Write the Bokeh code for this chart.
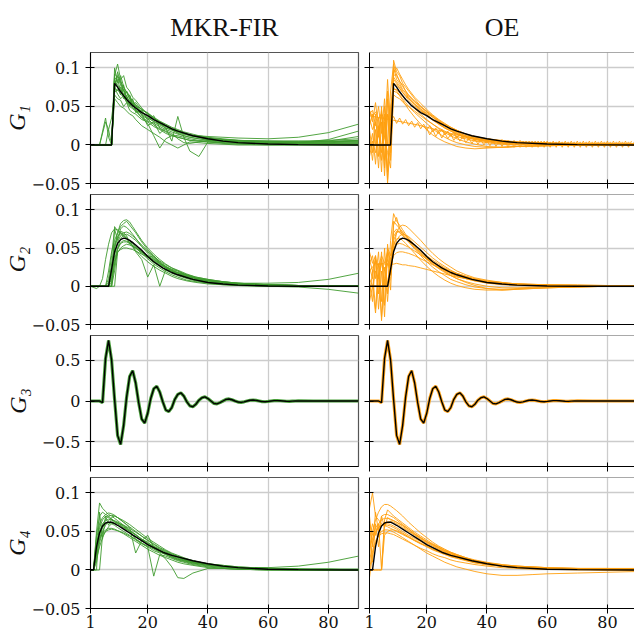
from bokeh.plotting import figure
from bokeh.layouts import column, row
from bokeh.models import Range1d, FixedTicker, Span
from bokeh.core.properties import value
from bokeh.embed import file_html
from bokeh.resources import INLINE

GREEN = "#3f9b2f"
ORANGE = "#ffa010"
GRID = "#cccccc"
TICK_FONT = "DejaVu Serif"

column_titles = ["MKR-FIR", "OE"]
row_labels = ["G₁", "G₂", "G₃", "G₄"]
x_ticks = [1, 20, 40, 60, 80]
x_tick_labels = ["1", "20", "40", "60", "80"]
y_ticks_small = [-0.05, 0, 0.05, 0.1]
y_tick_labels_small = ["−0.05", "0", "0.05", "0.1"]
y_ticks_g3 = [-0.5, 0, 0.5]
y_tick_labels_g3 = ["−0.5", "0", "0.5"]

# ---------------- true impulse responses (black) ----------------
g1_true_lags = [1, 8, 9, 10, 11, 12, 13, 14, 15, 16, 18, 20, 22, 25, 28, 30, 35, 40, 45, 50, 60, 70, 80, 90]
g1_true = [0, 0, 0.080, 0.075, 0.069, 0.064, 0.059, 0.055, 0.051, 0.048, 0.042, 0.038, 0.033, 0.027,
           0.021, 0.018, 0.012, 0.008, 0.005, 0.003, 0.0012, 0.0004, 0.0001, 0]
g2_true_lags = [1, 7, 8, 9, 10, 11, 12, 13, 14, 15, 16, 18, 20, 22, 25, 28, 30, 35, 40, 45, 50, 60, 70, 90]
g2_true = [0, 0, 0.022, 0.045, 0.056, 0.061, 0.063, 0.062, 0.06, 0.057, 0.054, 0.047, 0.039, 0.032,
           0.024, 0.018, 0.015, 0.009, 0.005, 0.003, 0.0015, 0.0004, 0.0001, 0]
g3_true_lags = list(range(1, 71)) + [75, 80, 90]
g3_true = [0, 0, 0, 0, -0.02, 0.52, 0.74, 0.5, 0.02, -0.42,
           -0.53, -0.3, 0.05, 0.3, 0.37, 0.22, -0.02, -0.22, -0.27, -0.15,
           0.03, 0.15, 0.18, 0.11, -0.01, -0.11, -0.13, -0.08, 0.02, 0.08,
           0.10, 0.06, -0.01, -0.06, -0.07, -0.04, 0.01, 0.04, 0.05, 0.03,
           0.0, -0.03, -0.035, -0.02, 0.0, 0.02, 0.025, 0.015, 0.0, -0.013,
           -0.017, -0.01, 0.0, 0.009, 0.012, 0.007, 0.0, -0.007, -0.009, -0.005,
           0.0, 0.004, 0.005, 0.003, 0.0, -0.003, -0.004, -0.002, 0.0, 0.002,
           0, 0, 0]
g4_true_lags = [1, 2, 3, 4, 5, 6, 7, 8, 9, 10, 12, 14, 16, 18, 20, 22, 25, 28, 30, 35, 40, 45, 50, 60, 70, 90]
g4_true = [0, 0, 0.03, 0.048, 0.057, 0.061, 0.062, 0.062, 0.06, 0.058, 0.053, 0.048, 0.043, 0.038,
           0.033, 0.029, 0.023, 0.019, 0.017, 0.012, 0.008, 0.005, 0.003, 0.001, 0.0004, 0]

# ---------------- G1, MKR-FIR estimates ----------------
g1_fir_lags = [1, 4, 6, 7, 8, 9, 10, 11, 12, 13, 14, 15, 16, 18, 20, 22, 24, 26, 28, 30, 32, 34, 37, 40, 45, 50, 60, 70, 80, 90]
g1_fir_runs = [
    [0, 0, 0, 0, 0, 0.09, 0.105, 0.085, 0.09, 0.075, 0.07, 0.062, 0.058, 0.048, 0.04, 0.035, 0.028, 0.022, 0.02, 0.016, 0.014, 0.012, 0.01, 0.008, 0.006, 0.005, 0.004, 0.004, 0.005, 0.006],
    [0, 0, 0.03, 0.02, 0.035, 0.065, 0.06, 0.058, 0.05, 0.055, 0.045, 0.042, 0.04, 0.033, 0.03, 0.024, 0.02, 0.015, 0.012, 0.01, 0.008, 0.006, 0.005, 0.004, 0.003, 0.002, 0.001, 0.001, 0.001, 0.001],
    [0, 0, 0, 0, 0, 0.075, 0.07, 0.075, 0.06, 0.065, 0.05, 0.055, 0.045, 0.04, 0.025, 0.03, 0.015, 0.022, 0.005, 0.037, 0.01, -0.008, -0.015, 0.004, 0.002, 0.001, 0, 0, 0, 0],
    [0, 0, 0, 0, 0, 0.08, 0.085, 0.07, 0.072, 0.062, 0.058, 0.05, 0.05, 0.043, 0.036, 0.03, 0.026, 0.022, 0.019, 0.017, 0.015, 0.013, 0.012, 0.011, 0.01, 0.009, 0.008, 0.01, 0.016, 0.027],
    [0, 0, 0, 0, 0, 0.07, 0.095, 0.08, 0.07, 0.068, 0.06, 0.052, 0.045, 0.035, 0.028, 0.012, -0.004, 0.008, 0.012, 0.01, 0.008, 0.006, 0.005, 0.004, 0.003, 0.002, 0.002, 0.003, 0.007, 0.018],
    [0, 0, 0.035, 0.01, 0, 0.1, 0.08, 0.085, 0.07, 0.06, 0.065, 0.052, 0.055, 0.045, 0.042, 0.035, 0.03, 0.025, 0.02, 0.015, 0.012, 0.01, 0.008, 0.006, 0.005, 0.004, 0.003, 0.003, 0.005, 0.011],
    [0, 0, 0, 0, 0, 0.085, 0.075, 0.065, 0.078, 0.058, 0.052, 0.06, 0.042, 0.045, 0.032, 0.038, 0.022, 0.018, 0.015, 0.008, 0.003, 0.002, 0.004, 0.006, 0.006, 0.005, 0.005, 0.005, 0.004, 0.004],
    [0, 0, 0, 0, 0, 0.06, 0.055, 0.05, 0.048, 0.044, 0.04, 0.038, 0.033, 0.025, 0.02, 0.015, 0.01, 0.004, 0.0, -0.004, 0.0, 0.004, 0.003, 0.002, 0.001, 0, 0, 0, 0, 0],
    [0, 0, 0, 0, 0, 0.082, 0.078, 0.072, 0.066, 0.062, 0.057, 0.053, 0.05, 0.043, 0.038, 0.033, 0.028, 0.024, 0.021, 0.018, 0.016, 0.013, 0.011, 0.009, 0.007, 0.006, 0.005, 0.005, 0.006, 0.008],
    [0, 0, 0, 0, 0, 0.092, 0.088, 0.078, 0.064, 0.07, 0.063, 0.05, 0.052, 0.038, 0.034, 0.026, 0.021, 0.017, 0.013, 0.012, 0.01, 0.008, 0.006, 0.005, 0.004, 0.003, 0.002, 0.002, 0.002, 0.003],
    [0, 0, 0, 0, 0, 0.078, 0.09, 0.082, 0.074, 0.069, 0.06, 0.058, 0.052, 0.046, 0.041, 0.036, 0.031, 0.027, 0.023, 0.02, 0.017, 0.015, 0.012, 0.01, 0.008, 0.006, 0.004, 0.003, 0.003, 0.004],
    [0, 0, 0, 0, 0, 0.068, 0.072, 0.066, 0.062, 0.056, 0.054, 0.048, 0.046, 0.04, 0.035, 0.031, 0.027, 0.024, 0.02, 0.018, 0.015, 0.013, 0.011, 0.009, 0.007, 0.006, 0.005, 0.004, 0.004, 0.005],
    [0, 0, 0, 0, 0, 0.088, 0.082, 0.09, 0.076, 0.068, 0.064, 0.056, 0.05, 0.047, 0.04, 0.034, 0.03, 0.026, 0.022, 0.019, 0.015, 0.012, 0.01, 0.007, 0.005, 0.004, 0.003, 0.002, 0.002, 0.002],
    [0, 0, 0, 0.02, 0, 0.074, 0.066, 0.06, 0.064, 0.055, 0.05, 0.047, 0.044, 0.036, 0.031, 0.028, 0.024, 0.02, 0.017, 0.014, 0.012, 0.01, 0.008, 0.007, 0.005, 0.004, 0.003, 0.003, 0.004, 0.006],
]

# ---------------- G1, OE estimates ----------------
g1_oe_lags = [1, 2, 3, 4, 5, 6, 7, 8, 9, 10, 11, 12, 13, 14, 16, 18, 20, 22, 24, 26, 28, 30, 33, 36, 40, 45, 50, 60, 70, 80, 90]
g1_oe_runs = [
    [0, 0, 0, 0, 0, 0, 0, 0, 0.11, 0.095, 0.09, 0.08, 0.075, 0.07, 0.06, 0.05, 0.043, 0.036, 0.03, 0.025, 0.02, 0.016, 0.012, 0.009, 0.006, 0.004, 0.003, 0.002, 0.001, 0.001, 0.001],
    [0.045, 0.03, 0.055, 0.02, 0.04, 0.01, 0.085, 0.02, 0.1, 0.085, 0.08, 0.072, 0.068, 0.062, 0.054, 0.046, 0.04, 0.033, 0.027, 0.022, 0.018, 0.014, 0.01, 0.007, 0.004, 0.002, 0.001, 0.001, 0.001, 0.001, 0.001],
    [-0.015, 0.005, -0.01, 0.02, -0.02, 0.03, -0.05, 0.01, 0.075, 0.07, 0.065, 0.06, 0.055, 0.05, 0.042, 0.035, 0.028, 0.021, 0.015, 0.01, 0.006, 0.003, 0.0, -0.002, -0.003, -0.003, -0.002, -0.001, 0, 0, 0],
    [0.035, 0.02, 0.03, 0.01, 0.045, -0.03, 0.06, -0.02, 0.085, 0.08, 0.074, 0.068, 0.063, 0.058, 0.05, 0.044, 0.038, 0.032, 0.027, 0.022, 0.018, 0.014, 0.01, 0.007, 0.005, 0.003, 0.002, 0.001, 0, 0, 0],
    [0, 0, 0, 0, 0, 0.01, -0.01, -0.03, 0.07, 0.068, 0.064, 0.058, 0.052, 0.046, 0.036, 0.027, 0.02, 0.013, 0.008, 0.004, 0.001, -0.002, -0.004, -0.005, -0.004, -0.003, -0.002, -0.001, 0, 0, 0],
    [0.025, 0.04, 0.0, 0.035, -0.01, 0.05, -0.035, 0.04, 0.09, 0.092, 0.082, 0.078, 0.07, 0.064, 0.056, 0.049, 0.043, 0.037, 0.031, 0.026, 0.021, 0.017, 0.012, 0.009, 0.006, 0.004, 0.003, 0.002, 0.001, 0.001, 0.001],
    [0, 0, 0, 0, 0, 0, 0, 0, 0.095, 0.1, 0.092, 0.085, 0.078, 0.072, 0.062, 0.054, 0.046, 0.039, 0.033, 0.028, 0.023, 0.019, 0.014, 0.011, 0.008, 0.006, 0.004, 0.003, 0.002, 0.002, 0.001],
    [0.01, -0.02, 0.02, -0.03, 0.03, -0.04, 0.04, -0.01, 0.065, 0.062, 0.06, 0.056, 0.052, 0.05, 0.044, 0.038, 0.032, 0.027, 0.022, 0.018, 0.014, 0.011, 0.008, 0.005, 0.003, 0.001, 0, 0, 0, 0, 0],
    [0.02, -0.01, 0.04, -0.015, 0.05, -0.02, 0.07, 0.005, 0.088, 0.082, 0.077, 0.07, 0.066, 0.061, 0.052, 0.045, 0.039, 0.033, 0.028, 0.023, 0.019, 0.015, 0.011, 0.008, 0.005, 0.003, 0.002, 0.001, 0.001, 0, 0],
    [0, 0, 0, 0, 0, 0, 0, 0, 0.08, 0.078, 0.073, 0.068, 0.064, 0.06, 0.053, 0.047, 0.041, 0.036, 0.031, 0.026, 0.022, 0.019, 0.014, 0.011, 0.008, 0.005, 0.004, 0.002, 0.001, 0.001, 0],
    [0.04, 0.045, 0.025, 0.05, 0.015, 0.06, 0.0, 0.07, 0.105, 0.09, 0.083, 0.076, 0.07, 0.065, 0.057, 0.05, 0.044, 0.038, 0.032, 0.027, 0.023, 0.019, 0.014, 0.01, 0.007, 0.005, 0.003, 0.002, 0.001, 0.001, 0.001],
    [-0.005, 0.015, -0.025, 0.025, -0.035, 0.04, -0.045, 0.05, 0.072, 0.072, 0.068, 0.063, 0.059, 0.055, 0.047, 0.04, 0.033, 0.027, 0.021, 0.016, 0.012, 0.008, 0.004, 0.001, -0.002, -0.003, -0.002, -0.001, 0, 0, 0],
]
g1_oe_zig_lags = list(range(1, 91))
g1_oe_zig = [0.045, 0.036, 0.043, 0.034, 0.041, 0.032, 0.039, 0.030, 0.037, 0.028,
             0.035, 0.027, 0.033, 0.025, 0.031, 0.023, 0.029, 0.021, 0.027, 0.019,
             0.025, 0.017, 0.022, 0.015, 0.020, 0.013, 0.018, 0.011, 0.016, 0.009,
             0.014, 0.008, 0.012, 0.006, 0.011, 0.005, 0.010, 0.004, 0.009, 0.003,
             0.008, 0.002, 0.007, 0.001, 0.007, 0.001, 0.006, 0.000, 0.006, 0.000,
             0.006, 0.000, 0.005, -0.001, 0.005, -0.001, 0.005, -0.001, 0.005, -0.001,
             0.004, -0.001, 0.004, -0.001, 0.004, -0.001, 0.004, -0.001, 0.004, -0.001,
             0.004, -0.001, 0.004, -0.001, 0.004, -0.001, 0.004, -0.001, 0.004, -0.001,
             0.004, -0.001, 0.004, -0.001, 0.004, -0.001, 0.004, -0.001, 0.004, -0.001]
g1_oe_zig2_lags = list(range(20, 91))
g1_oe_zig2 = [0.022, 0.013, 0.020, 0.011, 0.018, 0.009, 0.016, 0.008, 0.014, 0.006,
              0.012, 0.005, 0.011, 0.003, 0.009, 0.002, 0.008, 0.001, 0.007, 0.000,
              0.006, -0.001, 0.006, -0.002, 0.005, -0.002,
              0.005, -0.003, 0.005, -0.003, 0.005, -0.003, 0.005, -0.003, 0.005, -0.003,
              0.005, -0.003, 0.005, -0.003, 0.005, -0.003, 0.005, -0.003, 0.005, -0.003,
              0.005, -0.003, 0.005, -0.003, 0.005, -0.003, 0.005, -0.003, 0.005, -0.003,
              0.005, -0.003, 0.005, -0.003, 0.005, -0.003, 0.005, -0.003, 0.005, -0.003,
              0.005, -0.003, 0.005]
g1_oe_slow_lags = [1, 5, 9, 13, 17, 21, 25, 30, 35, 40, 50, 60, 70, 80, 90]
g1_oe_slow = [0.038, 0.035, 0.032, 0.029, 0.026, 0.022, 0.018, 0.013, 0.009, 0.006, 0.003, 0.002, 0.001, 0.001, 0.001]

# ---------------- G2, MKR-FIR estimates ----------------
g2_fir_lags = [1, 3, 4, 5, 6, 7, 8, 9, 10, 11, 12, 13, 14, 15, 16, 18, 20, 22, 24, 26, 28, 30, 33, 36, 40, 45, 50, 60, 70, 80, 90]
g2_fir_runs = [
    [0, 0, 0, 0, 0, 0.02, 0.045, 0.06, 0.07, 0.078, 0.082, 0.085, 0.08, 0.075, 0.07, 0.058, 0.048, 0.04, 0.032, 0.026, 0.021, 0.017, 0.012, 0.009, 0.006, 0.004, 0.003, 0.002, 0.001, 0.001, 0],
    [0, 0, 0, 0, 0, 0, 0, 0, 0.045, 0.048, 0.05, 0.05, 0.049, 0.048, 0.046, 0.042, 0.038, 0.033, 0.028, 0.024, 0.02, 0.017, 0.013, 0.01, 0.007, 0.005, 0.004, 0.004, 0.005, 0.009, 0.017],
    [0, -0.003, 0, 0.01, 0.035, 0.055, 0.07, 0.075, 0.074, 0.07, 0.066, 0.062, 0.057, 0.052, 0.047, 0.039, 0.032, 0.026, 0.021, 0.017, 0.013, 0.01, 0.007, 0.005, 0.003, 0.002, 0.001, 0, -0.001, -0.004, -0.009],
    [0, 0, 0, 0, 0, 0, 0.03, 0.055, 0.065, 0.07, 0.068, 0.064, 0.06, 0.052, 0.045, 0.035, 0.012, 0.028, 0.0, 0.022, 0.02, 0.018, 0.015, 0.012, 0.009, 0.006, 0.004, 0.002, 0.001, 0, 0],
    [0, 0, 0, 0, 0, 0, 0.02, 0.05, 0.07, 0.082, 0.086, 0.087, 0.084, 0.078, 0.072, 0.06, 0.05, 0.042, 0.035, 0.029, 0.024, 0.02, 0.015, 0.011, 0.008, 0.005, 0.003, 0.002, 0.001, 0, 0],
    [0, 0, 0, 0, 0, 0, 0.015, 0.035, 0.05, 0.057, 0.06, 0.059, 0.057, 0.054, 0.05, 0.043, 0.036, 0.029, 0.024, 0.019, 0.015, 0.012, 0.008, 0.006, 0.004, 0.002, 0.001, 0, 0, 0, 0],
    [0, 0, 0, 0, 0, 0.01, 0.04, 0.075, 0.06, 0.072, 0.07, 0.066, 0.055, 0.058, 0.052, 0.046, 0.04, 0.038, 0.03, 0.025, 0.022, 0.02, 0.014, 0.01, 0.007, 0.005, 0.003, 0.002, 0.001, 0, 0],
    [0, 0, 0, 0, 0, 0, 0, 0.078, 0.072, 0.068, 0.065, 0.063, 0.06, 0.056, 0.052, 0.045, 0.038, 0.031, 0.026, 0.021, 0.017, 0.014, 0.01, 0.007, 0.005, 0.003, 0.002, 0.001, 0, 0, 0],
    [0, 0, 0, 0, 0, 0, 0, 0.03, 0.044, 0.05, 0.053, 0.055, 0.054, 0.052, 0.05, 0.045, 0.04, 0.035, 0.03, 0.026, 0.022, 0.018, 0.014, 0.011, 0.008, 0.006, 0.004, 0.002, 0.001, 0.001, 0],
    [0, 0, 0, 0, 0, 0, 0.01, 0.04, 0.058, 0.066, 0.07, 0.071, 0.069, 0.066, 0.062, 0.054, 0.046, 0.038, 0.031, 0.025, 0.02, 0.016, 0.011, 0.008, 0.005, 0.003, 0.002, 0.001, 0, 0, 0],
    [0, 0, 0, 0, 0, 0, 0, 0.02, 0.05, 0.062, 0.067, 0.068, 0.066, 0.063, 0.06, 0.052, 0.045, 0.039, 0.033, 0.028, 0.024, 0.021, 0.016, 0.012, 0.009, 0.006, 0.004, 0.002, 0.001, 0, 0],
    [0, 0, 0, 0, 0, 0.005, 0.025, 0.05, 0.063, 0.075, 0.079, 0.077, 0.073, 0.068, 0.063, 0.052, 0.043, 0.036, 0.03, 0.024, 0.019, 0.015, 0.011, 0.008, 0.005, 0.003, 0.002, 0.001, 0, 0, 0],
    [0, 0, 0, 0, 0, 0, 0.005, 0.03, 0.048, 0.056, 0.058, 0.058, 0.056, 0.053, 0.05, 0.044, 0.039, 0.034, 0.029, 0.024, 0.02, 0.017, 0.013, 0.01, 0.007, 0.005, 0.003, 0.002, 0.001, 0.001, 0.001],
]

# ---------------- G2, OE estimates ----------------
g2_oe_lags = [1, 2, 3, 4, 5, 6, 7, 8, 9, 10, 11, 12, 13, 14, 16, 18, 20, 22, 24, 26, 28, 30, 33, 36, 40, 45, 50, 60, 70, 80, 90]
g2_oe_runs = [
    [0.03, 0.04, 0.01, 0.045, -0.02, 0.05, -0.01, 0.06, 0.095, 0.085, 0.08, 0.074, 0.068, 0.063, 0.054, 0.046, 0.04, 0.034, 0.029, 0.024, 0.02, 0.017, 0.013, 0.01, 0.007, 0.005, 0.003, 0.002, 0.002, 0.001, 0.001],
    [-0.015, 0.02, -0.03, 0.03, -0.045, 0.01, 0.03, 0.02, 0.06, 0.07, 0.072, 0.07, 0.066, 0.062, 0.054, 0.046, 0.038, 0.031, 0.025, 0.019, 0.014, 0.01, 0.005, 0.001, -0.003, -0.005, -0.004, -0.002, -0.001, 0, 0],
    [0.02, 0.025, 0.03, 0.028, 0.03, 0.029, 0.028, 0.028, 0.029, 0.03, 0.029, 0.028, 0.028, 0.027, 0.026, 0.024, 0.022, 0.02, 0.018, 0.016, 0.014, 0.012, 0.01, 0.008, 0.006, 0.004, 0.003, 0.002, 0.001, 0.001, 0.001],
    [0, 0, 0, 0, 0, 0, 0, 0.01, 0.05, 0.07, 0.078, 0.08, 0.079, 0.076, 0.068, 0.06, 0.051, 0.043, 0.036, 0.03, 0.025, 0.02, 0.015, 0.011, 0.008, 0.005, 0.003, 0.002, 0.001, 0.001, 0],
    [0.005, -0.02, 0.035, -0.03, 0.02, -0.04, 0.045, -0.005, 0.08, 0.09, 0.075, 0.068, 0.064, 0.06, 0.051, 0.043, 0.036, 0.029, 0.023, 0.018, 0.014, 0.01, 0.006, 0.003, 0.0, -0.002, -0.002, -0.001, 0, 0, 0],
    [0, 0, 0, 0, 0, 0, 0.005, 0.03, 0.055, 0.062, 0.063, 0.06, 0.056, 0.052, 0.043, 0.034, 0.026, 0.019, 0.013, 0.008, 0.004, 0.001, -0.002, -0.004, -0.005, -0.005, -0.004, -0.002, -0.001, 0, 0],
    [0.01, 0.0, 0.02, 0.01, 0.03, 0.02, 0.035, 0.025, 0.04, 0.044, 0.045, 0.045, 0.044, 0.043, 0.04, 0.036, 0.032, 0.028, 0.024, 0.021, 0.018, 0.015, 0.012, 0.009, 0.006, 0.004, 0.003, 0.001, 0.001, 0, 0],
    [0.045, 0.03, 0.04, 0.015, 0.035, 0.0, 0.05, 0.04, 0.07, 0.075, 0.07, 0.066, 0.062, 0.058, 0.05, 0.042, 0.035, 0.029, 0.024, 0.02, 0.016, 0.013, 0.01, 0.007, 0.005, 0.003, 0.002, 0.001, 0, 0, 0],
    [0.025, 0.01, 0.04, -0.01, 0.045, -0.025, 0.055, 0.015, 0.085, 0.08, 0.076, 0.071, 0.066, 0.061, 0.052, 0.044, 0.037, 0.031, 0.026, 0.021, 0.017, 0.014, 0.01, 0.007, 0.004, 0.002, 0.001, 0, 0, 0, 0],
    [0, 0, 0, 0, 0, 0, 0, 0.02, 0.045, 0.06, 0.066, 0.068, 0.067, 0.065, 0.058, 0.051, 0.044, 0.037, 0.031, 0.026, 0.021, 0.017, 0.013, 0.009, 0.006, 0.004, 0.002, 0.001, 0.001, 0, 0],
    [0.035, 0.02, 0.035, 0.025, 0.04, 0.03, 0.045, 0.035, 0.05, 0.055, 0.056, 0.055, 0.053, 0.051, 0.046, 0.041, 0.036, 0.031, 0.027, 0.023, 0.019, 0.016, 0.012, 0.009, 0.006, 0.004, 0.003, 0.001, 0.001, 0, 0],
    [-0.02, 0.0, -0.035, 0.015, -0.04, 0.025, -0.02, 0.035, 0.065, 0.072, 0.071, 0.067, 0.062, 0.058, 0.049, 0.04, 0.032, 0.025, 0.019, 0.014, 0.009, 0.006, 0.002, -0.001, -0.003, -0.004, -0.003, -0.002, -0.001, 0, 0],
]

# ---------------- G4, MKR-FIR estimates ----------------
g4_fir_lags = [1, 2, 3, 4, 5, 6, 7, 8, 9, 10, 12, 14, 16, 18, 20, 22, 24, 26, 28, 30, 32, 35, 40, 45, 50, 60, 70, 80, 90]
g4_fir_runs = [
    [0, 0, 0.05, 0.087, 0.08, 0.076, 0.072, 0.07, 0.067, 0.064, 0.058, 0.052, 0.046, 0.04, 0.034, 0.029, 0.025, 0.021, 0.017, 0.014, 0.012, 0.009, 0.006, 0.004, 0.003, 0.002, 0.001, 0.001, 0.001],
    [0, 0, 0, 0, 0.045, 0.05, 0.052, 0.053, 0.052, 0.051, 0.048, 0.044, 0.04, 0.035, 0.031, 0.027, 0.023, 0.02, 0.017, 0.014, 0.012, 0.009, 0.006, 0.004, 0.003, 0.003, 0.005, 0.01, 0.018],
    [0, 0, 0.03, 0.055, 0.065, 0.07, 0.068, 0.066, 0.063, 0.06, 0.055, 0.05, 0.04, 0.035, 0.03, -0.008, 0.02, 0.018, 0.015, 0.012, 0.01, 0.007, 0.004, 0.002, 0.001, 0, 0, 0, 0],
    [0, 0, 0.02, 0.04, 0.055, 0.06, 0.062, 0.06, 0.058, 0.055, 0.05, 0.045, 0.039, 0.034, 0.03, 0.025, 0.022, 0.014, 0.004, -0.01, -0.011, -0.004, 0.002, 0.002, 0.001, 0, 0, 0, 0],
    [0, 0, 0.01, 0.035, 0.05, 0.058, 0.064, 0.068, 0.07, 0.068, 0.062, 0.055, 0.022, 0.038, 0.045, 0.03, 0.025, 0.021, 0.018, 0.015, 0.013, 0.01, 0.007, 0.005, 0.003, 0.002, 0.001, 0, 0],
    [0, 0, 0.04, 0.06, 0.068, 0.072, 0.074, 0.073, 0.071, 0.068, 0.062, 0.056, 0.05, 0.044, 0.039, 0.034, 0.029, 0.025, 0.021, 0.018, 0.015, 0.012, 0.008, 0.006, 0.004, 0.002, 0.001, 0.001, 0],
    [0, 0, 0.025, 0.04, 0.048, 0.052, 0.054, 0.054, 0.053, 0.051, 0.047, 0.042, 0.037, 0.032, 0.027, 0.023, 0.019, 0.016, 0.013, 0.01, 0.008, 0.006, 0.003, 0.002, 0.001, 0, 0, 0, 0],
    [0, 0, 0, 0.075, 0.04, 0.07, 0.058, 0.066, 0.06, 0.062, 0.056, 0.05, 0.046, 0.04, 0.036, 0.03, 0.026, 0.022, 0.019, 0.016, 0.013, 0.01, 0.007, 0.005, 0.003, 0.002, 0.001, 0.001, 0],
    [0, 0, 0.035, 0.05, 0.06, 0.064, 0.066, 0.065, 0.064, 0.062, 0.057, 0.051, 0.045, 0.04, 0.035, 0.031, 0.027, 0.023, 0.02, 0.017, 0.014, 0.011, 0.007, 0.005, 0.003, 0.002, 0.001, 0, 0],
    [0, 0, 0.015, 0.03, 0.042, 0.05, 0.056, 0.06, 0.061, 0.061, 0.058, 0.054, 0.049, 0.044, 0.038, 0.033, 0.028, 0.024, 0.02, 0.017, 0.014, 0.01, 0.007, 0.004, 0.003, 0.001, 0, 0, 0],
    [0, 0, 0.045, 0.07, 0.075, 0.072, 0.07, 0.066, 0.063, 0.06, 0.054, 0.048, 0.043, 0.038, 0.033, 0.028, 0.024, 0.02, 0.016, 0.013, 0.011, 0.008, 0.005, 0.003, 0.002, 0.001, 0, 0, 0],
    [0, 0, 0.02, 0.045, 0.058, 0.066, 0.07, 0.071, 0.07, 0.068, 0.064, 0.059, 0.053, 0.047, 0.041, 0.036, 0.031, 0.026, 0.022, 0.019, 0.016, 0.012, 0.008, 0.006, 0.004, 0.002, 0.001, 0.001, 0.001],
]

# ---------------- G4, OE estimates ----------------
g4_oe_lags = [1, 2, 3, 4, 5, 6, 7, 8, 9, 10, 12, 14, 16, 18, 20, 22, 24, 26, 28, 30, 33, 36, 40, 45, 50, 55, 60, 70, 80, 90]
g4_oe_runs = [
    [0.08, 0.1, 0.07, 0.065, 0.06, 0.058, 0.056, 0.054, 0.052, 0.05, 0.046, 0.042, 0.038, 0.034, 0.031, 0.027, 0.024, 0.021, 0.018, 0.016, 0.013, 0.01, 0.007, 0.005, 0.004, 0.003, 0.002, 0.001, 0.001, 0.001],
    [0, 0, 0, 0, 0, 0.06, 0.062, 0.063, 0.062, 0.06, 0.055, 0.05, 0.045, 0.04, 0.035, 0.031, 0.027, 0.023, 0.02, 0.017, 0.013, 0.01, 0.007, 0.005, 0.003, 0.002, 0.002, 0.001, 0.001, 0],
    [0.02, 0.05, 0.065, 0.075, 0.082, 0.085, 0.085, 0.083, 0.08, 0.077, 0.07, 0.062, 0.055, 0.048, 0.042, 0.036, 0.031, 0.027, 0.023, 0.02, 0.016, 0.012, 0.009, 0.006, 0.004, 0.003, 0.002, 0.001, 0.001, 0.001],
    [-0.01, 0.02, 0.035, 0.045, 0.05, 0.052, 0.052, 0.051, 0.049, 0.047, 0.042, 0.037, 0.032, 0.027, 0.022, 0.018, 0.014, 0.01, 0.007, 0.004, 0.001, -0.002, -0.005, -0.007, -0.007, -0.006, -0.005, -0.004, -0.003, -0.002],
    [0.05, 0.01, 0.06, 0.03, 0.07, 0.055, 0.068, 0.065, 0.064, 0.062, 0.058, 0.053, 0.047, 0.042, 0.037, 0.033, 0.029, 0.025, 0.022, 0.019, 0.015, 0.012, 0.009, 0.006, 0.005, 0.004, 0.003, 0.002, 0.001, 0.001],
    [0.0, 0.025, 0.038, 0.044, 0.047, 0.048, 0.048, 0.047, 0.046, 0.044, 0.04, 0.036, 0.032, 0.028, 0.025, 0.021, 0.018, 0.016, 0.013, 0.011, 0.009, 0.007, 0.005, 0.003, 0.002, 0.001, 0.001, 0, 0, 0],
    [0.03, 0.04, 0.055, 0.06, 0.0, 0.065, 0.078, 0.074, 0.07, 0.067, 0.061, 0.055, 0.049, 0.044, 0.039, 0.034, 0.03, 0.026, 0.023, 0.02, 0.016, 0.013, 0.01, 0.007, 0.005, 0.004, 0.003, 0.002, 0.002, 0.001],
    [0.06, 0.045, 0.05, 0.055, 0.058, 0.06, 0.06, 0.059, 0.057, 0.055, 0.05, 0.045, 0.041, 0.037, 0.033, 0.029, 0.026, 0.023, 0.02, 0.018, 0.015, 0.012, 0.009, 0.007, 0.005, 0.004, 0.003, 0.002, 0.002, 0.002],
    [0.04, 0.06, 0.045, 0.06, 0.065, 0.067, 0.067, 0.066, 0.064, 0.062, 0.057, 0.051, 0.046, 0.041, 0.036, 0.032, 0.028, 0.024, 0.021, 0.018, 0.014, 0.011, 0.008, 0.005, 0.003, 0.002, 0.001, 0.001, 0, 0],
    [0.01, 0.035, 0.048, 0.055, 0.058, 0.059, 0.058, 0.057, 0.055, 0.053, 0.048, 0.043, 0.038, 0.034, 0.03, 0.026, 0.023, 0.02, 0.017, 0.015, 0.012, 0.009, 0.007, 0.005, 0.003, 0.002, 0.002, 0.001, 0.001, 0],
    [0, 0, 0, 0, 0, 0.045, 0.05, 0.052, 0.052, 0.051, 0.047, 0.043, 0.039, 0.035, 0.031, 0.027, 0.024, 0.021, 0.018, 0.016, 0.013, 0.01, 0.007, 0.005, 0.003, 0.002, 0.001, 0.001, 0, 0],
    [0.07, 0.03, 0.075, 0.05, 0.07, 0.072, 0.072, 0.07, 0.068, 0.065, 0.059, 0.053, 0.047, 0.042, 0.037, 0.033, 0.029, 0.025, 0.022, 0.019, 0.015, 0.012, 0.009, 0.006, 0.004, 0.003, 0.002, 0.001, 0.001, 0.001],
]

# ---------------- layout geometry (page origin at 0,0) ----------------
TITLE_H = 51             # height of the title strip above the panels
TITLE_BASELINE = 27      # baseline of the column titles, px from top
ROW_TOP = [1, 1, 1, 5]
FRAME_H = [131, 130, 131, 131]
ROW_BOT = [10, 10, 6, 26]
LEFT_W, RIGHT_W = 363, 271
Y_SMALL = (-0.05, 0.12)
Y_G3 = (-0.8, 0.8)


def x_span(c):
    return (1, 90) if c == 0 else (1, 89)


def side_kw(c):
    left = c == 0
    return dict(width=LEFT_W if left else RIGHT_W,
                min_border_left=90 if left else 6, min_border_right=5 if left else 0)


def make_title(c):
    xr = x_span(c)
    t = figure(height=TITLE_H, x_range=Range1d(*xr), y_range=Range1d(0, TITLE_H),
               output_backend="svg", toolbar_location=None, title_location=None,
               x_axis_location=None, y_axis_location=None,
               min_border_top=0, min_border_bottom=0,
               background_fill_color="white", border_fill_color="white", **side_kw(c))
    t.grid.visible = False
    t.outline_line_color = None
    t.text(x=[(xr[0] + xr[1]) / 2], y=[TITLE_H - TITLE_BASELINE], text=[column_titles[c]],
           text_align="center", text_baseline="alphabetic",
           text_font=value("Liberation Serif"), text_font_size=value("26px"), text_color="#111111")
    return t


def make_panel(r, c, yr, yt, ytl, series, color, truth_lags, truth_vals, halo=False):
    left = c == 0
    p = figure(height=ROW_TOP[r] + FRAME_H[r] + ROW_BOT[r],
               x_range=Range1d(*x_span(c)), y_range=Range1d(*yr),
               output_backend="svg", toolbar_location=None, title_location=None,
               min_border_top=ROW_TOP[r], min_border_bottom=ROW_BOT[r],
               background_fill_color="white", border_fill_color="white", **side_kw(c))

    for lags, vals in series:
        p.line(lags, vals, line_color=color, line_width=1.0, line_alpha=0.9)
    if halo:
        p.line(truth_lags, truth_vals, line_color=color, line_width=3.2, line_alpha=0.95)
    p.line(truth_lags, truth_vals, line_color="black", line_width=1.4)

    ax = p.xaxis[0]
    ay = p.yaxis[0]
    ax.ticker = FixedTicker(ticks=x_ticks)
    ax.major_label_overrides = dict(zip(x_ticks, x_tick_labels))
    ay.ticker = FixedTicker(ticks=yt)
    ay.major_label_overrides = dict(zip(yt, ytl))
    for a in (ax, ay):
        a.axis_line_color = "black"
        a.axis_line_width = 1
        a.major_tick_line_color = "black"
        a.major_tick_line_width = 1
        a.major_tick_in = 4
        a.major_tick_out = 5
        a.minor_tick_line_color = None
        a.major_label_text_font = TICK_FONT
        a.major_label_text_font_size = "16px"
        a.major_label_text_color = "#111111"
    if r != 3:
        ax.major_label_text_font_size = "0px"
        ax.major_label_standoff = 0
    else:
        ax.major_label_standoff = 2
    if left:
        ay.major_label_standoff = 5
        ay.axis_label = row_labels[r]
        ay.axis_label_text_font = "Liberation Serif"
        ay.axis_label_text_font_style = "italic"
        ay.axis_label_text_font_size = "24px"
        ay.axis_label_text_color = "#111111"
        ay.axis_label_standoff = 8 if r == 2 else -2
    else:
        ay.major_label_text_font_size = "0px"
        ay.major_label_standoff = 0

    p.xgrid.grid_line_color = GRID
    p.ygrid.grid_line_color = GRID
    p.xgrid.grid_line_width = 1.3
    p.ygrid.grid_line_width = 1.3
    if left:
        p.outline_line_color = "#555555"
        p.outline_line_width = 1.2
    else:
        p.outline_line_color = None
        p.add_layout(Span(location=yr[1], dimension="width", line_color="#555555", line_width=1.2))
    return p


g1_fir_series = [(g1_fir_lags, v) for v in g1_fir_runs]
g1_oe_series = ([(g1_oe_lags, v) for v in g1_oe_runs]
                + [(g1_oe_zig_lags, g1_oe_zig), (g1_oe_zig2_lags, g1_oe_zig2), (g1_oe_slow_lags, g1_oe_slow)])
g2_fir_series = [(g2_fir_lags, v) for v in g2_fir_runs]
g2_oe_series = [(g2_oe_lags, v) for v in g2_oe_runs]
g4_fir_series = [(g4_fir_lags, v) for v in g4_fir_runs]
g4_oe_series = [(g4_oe_lags, v) for v in g4_oe_runs]

t1 = make_title(0)
t2 = make_title(1)
p11 = make_panel(0, 0, Y_SMALL, y_ticks_small, y_tick_labels_small, g1_fir_series, GREEN, g1_true_lags, g1_true)
p12 = make_panel(0, 1, Y_SMALL, y_ticks_small, y_tick_labels_small, g1_oe_series, ORANGE, g1_true_lags, g1_true)
p21 = make_panel(1, 0, Y_SMALL, y_ticks_small, y_tick_labels_small, g2_fir_series, GREEN, g2_true_lags, g2_true)
p22 = make_panel(1, 1, Y_SMALL, y_ticks_small, y_tick_labels_small, g2_oe_series, ORANGE, g2_true_lags, g2_true)
p31 = make_panel(2, 0, Y_G3, y_ticks_g3, y_tick_labels_g3, [], GREEN, g3_true_lags, g3_true, halo=True)
p32 = make_panel(2, 1, Y_G3, y_ticks_g3, y_tick_labels_g3, [], ORANGE, g3_true_lags, g3_true, halo=True)
p41 = make_panel(3, 0, Y_SMALL, y_ticks_small, y_tick_labels_small, g4_fir_series, GREEN, g4_true_lags, g4_true)
p42 = make_panel(3, 1, Y_SMALL, y_ticks_small, y_tick_labels_small, g4_oe_series, ORANGE, g4_true_lags, g4_true)

p = column(row(t1, t2), row(p11, p12), row(p21, p22), row(p31, p32), row(p41, p42))

open("out.html", "w").write(file_html(p, INLINE))
